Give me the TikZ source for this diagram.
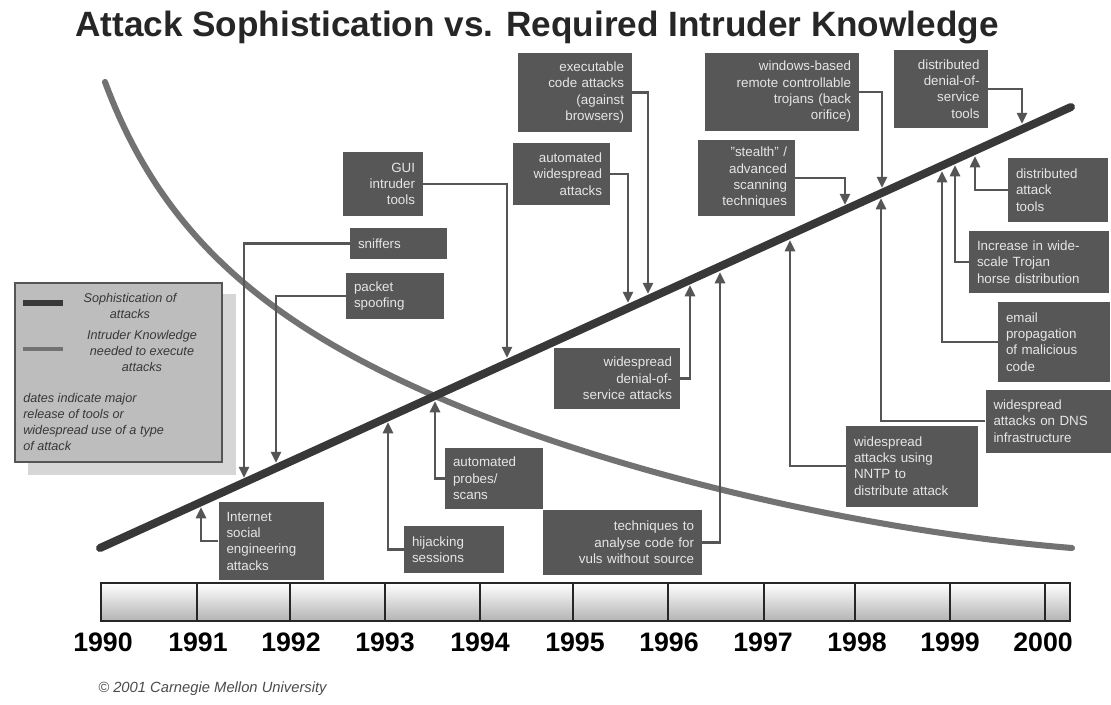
\documentclass[tikz,border=0pt]{standalone}
\usepackage{fontspec}
\setmainfont{Liberation Sans}
\usetikzlibrary{arrows.meta}
\definecolor{boxgray}{HTML}{575757}
\definecolor{boxtext}{HTML}{E6E6E6}
\definecolor{sophline}{HTML}{383838}
\definecolor{knowline}{HTML}{727272}
\definecolor{conngray}{HTML}{555555}
\definecolor{legfill}{HTML}{BDBDBD}
\definecolor{legshadow}{HTML}{D6D6D6}
\begin{document}
\begin{tikzpicture}[x=0.025cm,y=-0.025cm,
  evt/.style 2 args={fill=boxgray, text=boxtext, font=\fontsize{9.5}{11.6}\selectfont,
    inner xsep=0.2cm, inner ysep=0pt, text width=(#1-16)*0.025cm, minimum height=#2*0.025cm},
  conn/.style={draw=conngray, line width=2pt, -{Triangle[length=8pt,width=7pt]}},
  legtxt/.style={text=sophline, font=\fontsize{9}{11.2}\selectfont\itshape, inner sep=0pt},
  yearlbl/.style={font=\fontsize{19}{19}\selectfont\bfseries, inner sep=0pt}]
\useasboundingbox[fill=white] (0,0) rectangle (1111,704);
\node[font=\fontsize{25}{25}\selectfont\bfseries, text=black!85] (title) at (537,27) {Attack Sophistication vs. Required Intruder Knowledge};
\draw[knowline, line width=4.3pt, line cap=round] (105,82) .. controls (160,230) and (260,320) .. (435,396) .. controls (600,468) and (850,530) .. (1072,548);
\draw[sophline, line width=5.7pt, line cap=round] (100,548) -- (1071,107);
\fill[legshadow] (28,294) rectangle (236,475);
\node[draw=conngray, fill=legfill, line width=1pt, minimum width=207*0.025cm, minimum height=179*0.025cm, inner sep=0pt] (legend) at (118.5,372.5) {};
\draw[sophline, line width=4.3pt] (23,303) -- (63,303);
\draw[knowline, line width=3.2pt] (23,349) -- (63,349);
\node[legtxt, align=center] (l-soph) at (130,306) {Sophistication of\\attacks};
\node[legtxt, align=center] (l-know) at (142,351) {Intruder Knowledge\\needed to execute\\attacks};
\node[legtxt, align=left, anchor=west] (l-dates) at (23,422) {dates indicate major\\release of tools or\\widespread use of a type\\of attack};
\shade[top color=white, middle color=white, bottom color=black!30] (101,583) rectangle (1070,621);
\draw[black!85, line width=1.8pt] (101,583) rectangle (1070,621);
\foreach \x in {197,290,385,480,573,668,764,855,950,1045}
  \draw[black!85, line width=1.4pt] (\x,583) -- (\x,621);
\foreach \yr/\x in {1990/103,1991/198,1992/291,1993/385,1994/480,1995/575,1996/669,1997/763,1998/857,1999/950,2000/1043}
  \node[yearlbl] (y\yr) at (\x,642.5) {\yr};
\node[anchor=west, font=\fontsize{10.5}{11}\selectfont\itshape, text=black!70, inner sep=0pt] (copy) at (98,689) {© 2001 Carnegie Mellon University};
\coordinate (t-exec) at (648,294);
\coordinate (t-autowide) at (628,303);
\coordinate (t-gui) at (507,358);
\coordinate (t-sniff) at (244,478);
\coordinate (t-spoof) at (276,463);
\coordinate (t-trojan) at (882,188);
\coordinate (t-stealth) at (845,205);
\coordinate (t-ddos) at (1022,124);
\coordinate (t-dattack) at (975,156);
\coordinate (t-increase) at (955,165);
\coordinate (t-email) at (942,171);
\coordinate (t-dns) at (881,198);
\coordinate (t-nntp) at (790,240);
\coordinate (t-wdos) at (690,285);
\coordinate (t-analyse) at (720,272);
\coordinate (t-probes) at (435,401);
\coordinate (t-hijack) at (388,422);
\coordinate (t-social) at (201,507);
\node[evt={114}{79}, align=right] (exec) at (575,92.5) {executable\\code attacks\\(against\\browsers)};
\node[evt={97}{62}, align=right] (autowide) at (561.5,174) {automated\\widespread\\attacks};
\node[evt={80}{64}, align=right] (gui) at (383,184) {GUI\\intruder\\tools};
\node[evt={97}{31}, align=left] (sniff) at (398.5,243.5) {sniffers};
\node[evt={98}{46}, align=left] (spoof) at (395,296) {packet\\spoofing};
\node[evt={154}{78}, align=right] (trojan) at (782,92) {windows-based\\remote controllable\\trojans (back\\orifice)};
\node[evt={97}{76}, align=right] (stealth) at (746.5,178) {"stealth" /\\advanced\\scanning\\techniques};
\node[evt={94}{78}, align=right] (ddos) at (940.5,89) {distributed\\denial-of-\\service\\tools};
\node[evt={100}{64}, align=left] (dattack) at (1058,190) {distributed\\attack\\tools};
\node[evt={140}{62}, align=left] (increase) at (1039,262) {Increase in wide-\\scale Trojan\\horse distribution};
\node[evt={112}{80}, align=left] (email) at (1054,342) {email\\propagation\\of malicious\\code};
\node[evt={125}{63}, align=left] (dns) at (1048,421) {widespread\\attacks on DNS\\infrastructure};
\node[evt={132}{81}, align=left] (nntp) at (912,466) {widespread\\attacks using\\NNTP to\\distribute attack};
\node[evt={126}{61}, align=right] (wdos) at (617,378.5) {widespread\\denial-of-\\service attacks};
\node[evt={159}{65}, align=right] (analyse) at (622.5,542.5) {techniques to\\analyse code for\\vuls without source};
\node[evt={98}{61}, align=left] (probes) at (494,478.5) {automated\\probes/\\scans};
\node[evt={100}{47}, align=left] (hijack) at (454,549.5) {hijacking\\sessions};
\node[evt={105}{78}, align=left] (social) at (271,541) {Internet\\social\\engineering\\attacks};
\draw[conn] (exec.east) -| (t-exec);
\draw[conn] (autowide.east) -| (t-autowide);
\draw[conn] (gui.east) -| (t-gui);
\draw[conn] (sniff.west) -| (t-sniff);
\draw[conn] (spoof.west) -| (t-spoof);
\draw[conn] (trojan.east) -| (t-trojan);
\draw[conn] (stealth.east) -| (t-stealth);
\draw[conn] (ddos.east) -| (t-ddos);
\draw[conn] (dattack.west) -| (t-dattack);
\draw[conn] (increase.west) -| (t-increase);
\draw[conn] (email.west) -| (t-email);
\draw[conn] (dns.west) -| (t-dns);
\draw[conn] (nntp.west) -| (t-nntp);
\draw[conn] (wdos.east) -| (t-wdos);
\draw[conn] (analyse.east) -| (t-analyse);
\draw[conn] (probes.west) -| (t-probes);
\draw[conn] (hijack.west) -| (t-hijack);
\draw[conn] (social.west) -| (t-social);
\end{tikzpicture}
\end{document}
